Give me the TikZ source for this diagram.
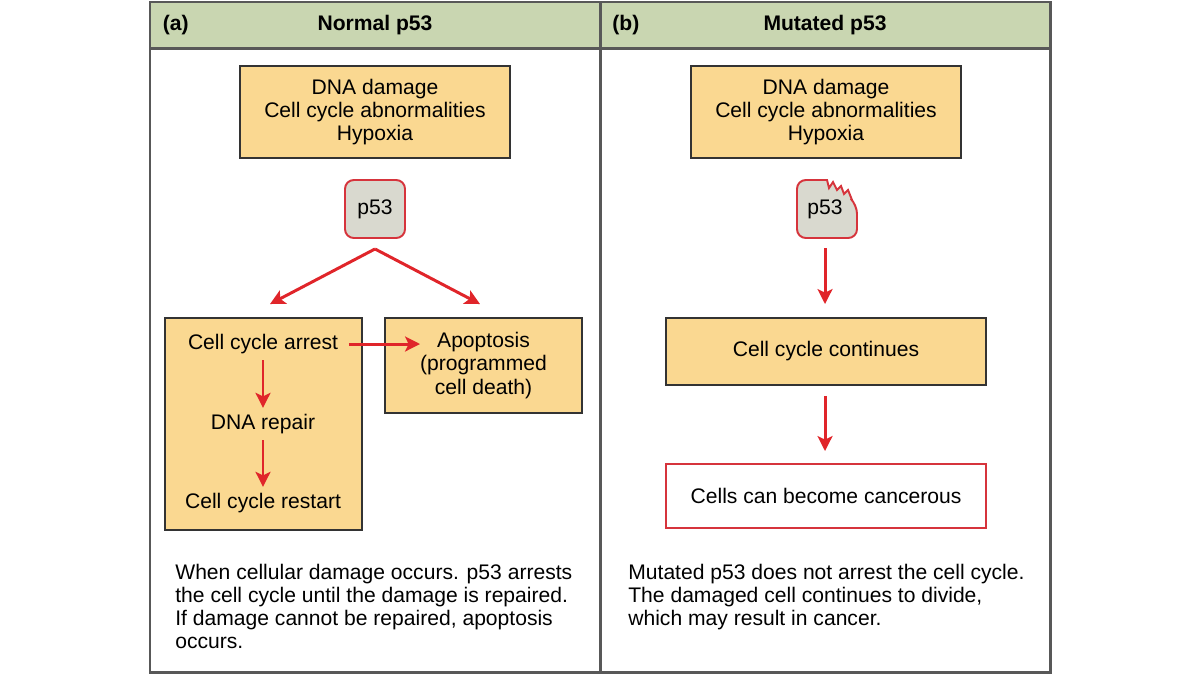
\documentclass[tikz,border=0pt]{standalone}
\usepackage{fontspec}
\setmainfont{Liberation Sans}
\usepackage{xcolor}
\usepackage{tikz}
\usetikzlibrary{arrows.meta,positioning,calc}
\definecolor{framegray}{RGB}{88,88,88}
\definecolor{headgreen}{RGB}{201,214,177}
\definecolor{boxorange}{RGB}{250,216,145}
\definecolor{protgray}{RGB}{217,217,207}
\definecolor{arrred}{RGB}{224,37,42}
\definecolor{edgered}{RGB}{214,52,60}

\begin{document}
\begin{tikzpicture}[
  >=Stealth,
  B/.style = {draw=black!80, fill=boxorange, line width=1.1pt,
              align=center, font=\fontsize{12}{13.2}\selectfont, inner sep=0pt},
  P/.style = {draw=edgered, fill=protgray, line width=1.1pt, rounded corners=5pt,
              minimum width=1.2cm, minimum height=1.16cm,
              font=\fontsize{12}{13.2}\selectfont},
  W/.style = {draw=edgered, fill=white, line width=1.1pt,
              minimum width=6.4cm, minimum height=1.28cm,
              font=\fontsize{12}{13.2}\selectfont},
  T/.style = {align=center, font=\fontsize{12}{13.2}\selectfont, inner sep=2pt},
  H/.style = {font=\bfseries\fontsize{12}{13.2}\selectfont, inner sep=0pt},
  C/.style = {anchor=west, align=left, font=\fontsize{12}{13.2}\selectfont, inner sep=0pt},
  arr/.style = {-{Stealth[length=8.5pt,width=8.5pt,inset=2pt]},
                line width=1.7pt, color=arrred}
]
\useasboundingbox (0,0) rectangle (24,-13.5);

% Frame with header band and divider
\fill[headgreen] (3,-0.04) rectangle (21,-0.96);
\draw[framegray, line width=1.7pt] (3,-0.04) rectangle (21,-13.44);
\draw[framegray, line width=1.7pt] (3,-0.96) -- (21,-0.96);
\draw[framegray, line width=1.7pt] (12,-0.04) -- (12,-13.44);

\node[H, anchor=west] (labA)  at ( 3.25,-0.5) {(a)};
\node[H]              (headA) at ( 7.5, -0.5) {Normal p53};
\node[H, anchor=west] (labB)  at (12.24,-0.5) {(b)};
\node[H]              (headB) at (16.5, -0.5) {Mutated p53};

% Panel (a): normal p53
\node[B, minimum width=5.4cm, minimum height=1.84cm] (stressA) at (7.5,-2.24)
  {DNA damage\\Cell cycle abnormalities\\Hypoxia};
\node[P] (p53) at (7.5,-4.18) {p53};

\node[B, minimum width=3.94cm, minimum height=4.24cm] (arrestbox) at (5.27,-8.48) {};
\node[T] (arrest)  at (5.26,-6.88) {Cell cycle arrest};
\node[T] (repair)  at (5.26,-8.48) {DNA repair};
\node[T] (restart) at (5.26,-10.06) {Cell cycle restart};

\node[B, minimum width=3.94cm, minimum height=1.9cm] (apop) at (9.67,-7.31)
  {Apoptosis\\(programmed\\cell death)};

\draw[arr] ([yshift=-0.2cm]p53.south) -- ($(arrestbox.north)+(0.13,0.26)$);
\draw[arr] ([yshift=-0.2cm]p53.south) -- ($(apop.north)+(-0.07,0.26)$);
\draw[arr, shorten <=0.14cm] (arrest.east) -- ($(arrest.east -| apop.west)+(0.72,0)$);
\draw[arr, shorten <=0.05cm, shorten >=0.05cm] (arrest.south) -- (repair.north);
\draw[arr, shorten <=0.05cm, shorten >=0.05cm] (repair.south) -- (restart.north);

\node[C] (capA) at (3.5,-12.13)
  {When cellular damage occurs. p53 arrests\\
   the cell cycle until the damage is repaired.\\
   If damage cannot be repaired, apoptosis\\
   occurs.};

% Panel (b): mutated p53
\node[B, minimum width=5.4cm, minimum height=1.84cm] (stressB) at (16.52,-2.24)
  {DNA damage\\Cell cycle abnormalities\\Hypoxia};

\draw[draw=edgered, fill=protgray, line width=1.1pt]
  (16.54,-3.6) [rounded corners=5pt] -- (15.94,-3.6) -- (15.94,-4.76)
  -- (17.14,-4.76) -- (17.14,-4.1) [sharp corners]
  -- (17.04,-4.0) -- (16.96,-3.80) -- (16.88,-3.88) -- (16.82,-3.72)
  -- (16.74,-3.80) -- (16.66,-3.64) -- (16.58,-3.76) -- cycle;
\node[T, minimum width=1.2cm, minimum height=1.16cm, inner sep=0pt] (mp53) at (16.5,-4.18) {p53};

\node[B, minimum width=6.4cm, minimum height=1.34cm] (cont) at (16.52,-7.03)
  {Cell cycle continues};
\node[W] (cancer) at (16.52,-9.92) {Cells can become cancerous};

\draw[arr, shorten <=0.2cm, shorten >=0.26cm] (mp53.south) -- (mp53.south |- cont.north);
\draw[arr, shorten <=0.2cm, shorten >=0.24cm] (cont.south -| mp53.south) -- (mp53.south |- cancer.north);

\node[C] (capB) at (12.56,-11.94)
  {Mutated p53 does not arrest the cell cycle.\\
   The damaged cell continues to divide,\\
   which may result in cancer.};

\end{tikzpicture}
\end{document}
